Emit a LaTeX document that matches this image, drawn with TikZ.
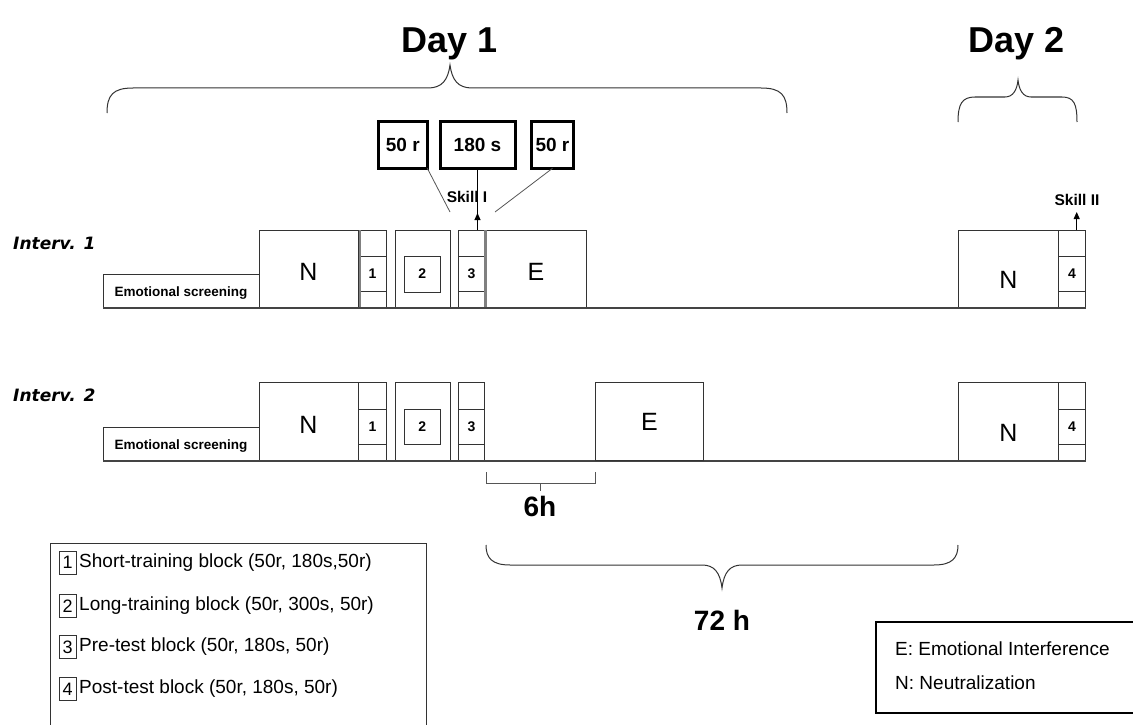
\documentclass[tikz,border=0pt]{standalone}
\usepackage{fontspec}
\setmainfont{Liberation Sans}
\newfontfamily\verd{DejaVu Sans}
\usetikzlibrary{arrows.meta}
\newcommand\fsz[1]{\fontsize{#1}{#1}\selectfont}
\definecolor{lc}{HTML}{333333}
\definecolor{bc}{HTML}{444444}
\definecolor{cc}{HTML}{555555}
\newcommand\bx[6][]{\node[blk,#1,minimum width={((#5)-(#3))*1pt},minimum height={((#6)-(#4))*1pt}] (#2) at ({((#3)+(#5))/2},{((#4)+(#6))/2}) {};}
\newcommand\dorow[2]{%
  \bx{#1scr}{103.3}{#2+44.3}{259}{#2+78}
  \node[lab] (#1scrt) at (181,{#2+63}) {\bfseries\fsz{13.5}Emotional screening};
  \bx{#1N}{259}{#2}{358.3}{#2+78}
  \node[big] (#1Nt) at (308.5,{#2+42}) {N};
  \bx{#1b1}{358.3}{#2}{386.7}{#2+78}
  \draw[lc,line width=1pt] (358.3,{#2+26.7}) -- (386.7,{#2+26.7}) (358.3,{#2+61.7}) -- (386.7,{#2+61.7});
  \node[num] (#1n1) at (372.5,{#2+44}) {1};
  \bx{#1b2}{395}{#2}{450}{#2+78}
  \bx{#1b2i}{404.3}{#2+26.7}{440.3}{#2+62}
  \node[num] (#1n2) at (422.3,{#2+44}) {2};
  \bx{#1b3}{458.5}{#2}{484.5}{#2+78}
  \draw[lc,line width=1pt] (458.5,{#2+26.7}) -- (484.5,{#2+26.7}) (458.5,{#2+61.7}) -- (484.5,{#2+61.7});
  \node[num] (#1n3) at (471.5,{#2+44}) {3};
  \bx{#1dN}{958.3}{#2}{1058.3}{#2+78}
  \node[big] (#1dNt) at (1008.5,{#2+50}) {N};
  \bx{#1b4}{1058.3}{#2}{1085.7}{#2+78}
  \draw[lc,line width=1pt] (1058.3,{#2+26.7}) -- (1085.7,{#2+26.7}) (1058.3,{#2+61.7}) -- (1085.7,{#2+61.7});
  \node[num] (#1n4) at (1072,{#2+44}) {4};
  \draw[base] (103.3,{#2+78}) -- (1085.7,{#2+78});
}
\begin{document}
\begin{tikzpicture}[x=1pt,y=-1pt,
  blk/.style={draw=lc,line width=1pt,inner sep=0pt,outer sep=0pt,fill=white},
  thickbox/.style={draw=black,line width=3pt},
  lab/.style={inner sep=0pt},
  big/.style={inner sep=0pt,font=\fsz{25}},
  num/.style={inner sep=0pt,font=\bfseries\fsz{14}},
  tb/.style={inner sep=0pt,font=\bfseries\fsz{19}},
  base/.style={draw=bc,line width=1.6pt},
  conn/.style={draw=cc,line width=0.8pt},
  brace/.style={draw=lc,line width=1pt},
  dual/.style={draw=gray,line width=2.5pt},
  leg/.style={inner sep=0pt,anchor=west,font=\fsz{19}}]
\useasboundingbox (0,0) rectangle (1133,725);

% Day labels and braces
\node[lab,font=\bfseries\fsz{36}] (day1) at (450,44) {Day 1};
\node[lab,font=\bfseries\fsz{36}] (day2) at (1017,44) {Day 2};
\draw[brace] (107,113) .. controls (107,95) and (113,88) .. (133,88) -- (428,88)
  .. controls (442,88) and (448,80) .. (450,65) .. controls (452,80) and (458,88) .. (472,88)
  -- (761,88) .. controls (781,88) and (787,95) .. (787,113);
\draw[brace] (958,122) .. controls (958,104) and (962,97) .. (975,97) -- (1005,97)
  .. controls (1013,97) and (1017,90) .. (1018,80) .. controls (1019,90) and (1023,97) .. (1031,97)
  -- (1062,97) .. controls (1074,97) and (1077,104) .. (1077,122);

% rows
\node[lab,anchor=west,font=\verd\bfseries\itshape\fsz{17}] (iv1) at (13,243) {Interv. 1};
\node[lab,anchor=west,font=\verd\bfseries\itshape\fsz{17}] (iv2) at (13,395) {Interv. 2};
\dorow{A}{230}
\dorow{B}{382.7}
% row 1 extras
\bx{AE}{486.7}{230}{586}{308}
\node[big] (AEt) at (536,272) {E};
\draw[dual] (360,230) -- (360,308);
\draw[dual] (485.6,230) -- (485.6,308);
\draw[base] (103.3,308) -- (1085.7,308);
% row 2 extras
\bx{BE}{595.7}{382.7}{703.3}{460.7}
\node[big] (BEt) at (649.5,422) {E};

% top boxes
\bx[thickbox]{r1}{378.3}{121.7}{427.3}{168.3}
\bx[thickbox]{s1}{440}{121.7}{515}{168.3}
\bx[thickbox]{r2}{531.7}{121.7}{573.3}{168.3}
\node[tb] (r1t) at (r1) {50 r};
\node[tb] (s1t) at (s1) {180 s};
\node[tb] (r2t) at (r2) {50 r};
\coordinate (cl) at (450,212);
\coordinate (cr) at (495,212);
\draw[conn] (r1.south east) -- (cl);
\draw[conn] (r2.south) -- (cr);
\node[lab,font=\bfseries\fsz{15.5}] (sk1) at (467,197) {Skill I};
\draw[line width=0.9pt] (s1.south) -- (s1.south |- Ab3.north);
\draw[line width=0.9pt,-{Triangle[length=7pt,width=6pt]}] (s1.south |- Ab3.north) -- ++(0,-17);
\node[lab,font=\bfseries\fsz{15.5}] (sk2) at (1077,200) {Skill II};
\coordinate (sk2a) at (1076.7,230);
\draw[line width=0.9pt,-{Triangle[length=7pt,width=6pt]}] (sk2a) -- ++(0,-18);

% 6h bracket
\draw[conn] (486,472) -- (486,483) -- (595,483) -- (595,472);
\coordinate (h6a) at (540,483);
\coordinate (h6b) at (540,491);
\draw[conn] (h6a) -- (h6b);
\node[lab,font=\bfseries\fsz{28}] (h6) at (540,506) {6h};

% 72h brace
\draw[brace] (486,545) .. controls (486,558) and (492,565) .. (510,565) -- (702,565)
  .. controls (714,565) and (720,572) .. (722,588) .. controls (724,572) and (730,565) .. (742,565)
  -- (934,565) .. controls (952,565) and (958,558) .. (958,545);
\node[lab,font=\bfseries\fsz{28}] (h72) at (722,620) {72 h};

% legend left
\bx{legL}{50}{543}{426.7}{740}
\bx{k1}{59.3}{551}{76}{574}
\bx{k2}{59.3}{594.5}{76}{617.5}
\bx{k3}{59.3}{635.5}{76}{658.5}
\bx{k4}{59.3}{677.5}{76}{700.5}
\node[lab,font=\fsz{18}] at (k1) {1};
\node[lab,font=\fsz{18}] at (k2) {2};
\node[lab,font=\fsz{18}] at (k3) {3};
\node[lab,font=\fsz{18}] at (k4) {4};
\node[leg] (t1) at (79,562.5) {Short-training block (50r, 180s,50r)};
\node[leg] (t2) at (79,606) {Long-training block (50r, 300s, 50r)};
\node[leg] (t3) at (79,647) {Pre-test block (50r, 180s, 50r)};
\node[leg] (t4) at (79,689) {Post-test block (50r, 180s, 50r)};

% legend right
\bx[draw=black,line width=2pt]{legR}{876}{621.7}{1145}{713.3}
\node[leg] (e1) at (895,648.3) {E: Emotional Interference};
\node[leg] (e2) at (895,682.7) {N: Neutralization};
\end{tikzpicture}
\end{document}
